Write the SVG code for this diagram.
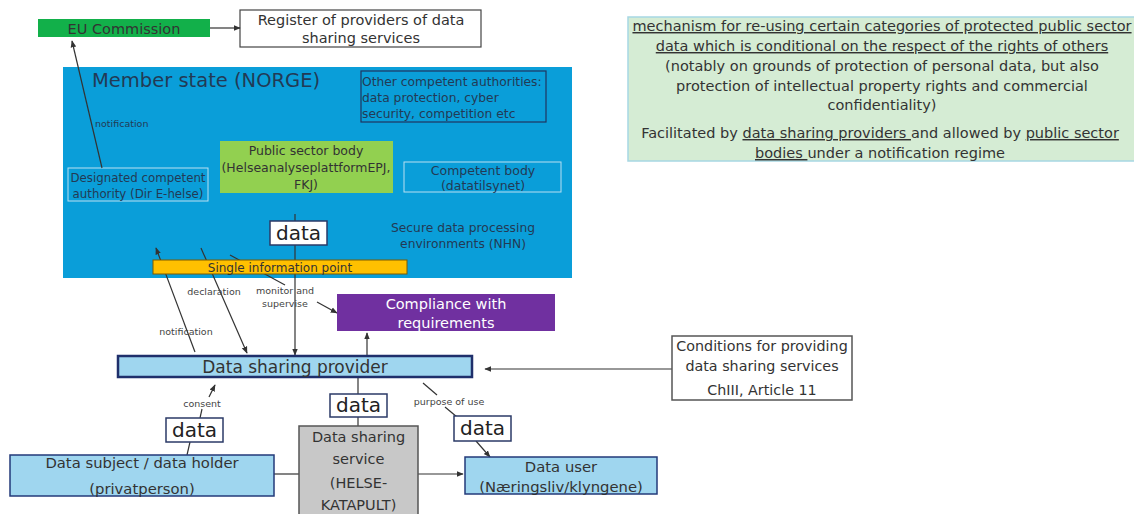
<svg xmlns="http://www.w3.org/2000/svg" width="1134" height="514" viewBox="0 0 1134 514">
<style>
text{font-family:"DejaVu Sans",sans-serif;fill:#333}
.c{text-anchor:middle}
.lbl{font-size:9.5px;fill:#444}
.blue{fill:#223a55}
.ln{stroke:#333;stroke-width:1.2;fill:none}
.data{fill:#fff;stroke:#2b3a67;stroke-width:1.5}
.dt{font-size:20px;fill:#222}
.lb{fill:#9fd6ef;stroke:#233a7a;stroke-width:1.5}
</style>
<defs>
<marker id="ah" viewBox="0 0 10 10" refX="9" refY="5" markerWidth="7" markerHeight="7" orient="auto-start-reverse" markerUnits="userSpaceOnUse">
<path d="M0,1 L10,5 L0,9 z" fill="#333"/>
</marker>
</defs>

<g id="member-state">
<rect x="63" y="67" width="509" height="211" fill="#0a9ed9"/>
<text x="92" y="87" font-size="19.5" class="blue">Member state (NORGE)</text>
</g>

<g id="eu-commission">
<rect x="38" y="19" width="172" height="18" fill="#12b04a"/>
<text x="124" y="34" class="c" font-size="14.5">EU Commission</text>
</g>

<g id="register">
<rect x="240" y="10" width="241" height="37" fill="#fff" stroke="#444" stroke-width="1.2"/>
<text x="361" y="25" class="c" font-size="14.5">Register of providers of data</text>
<text x="361" y="43" class="c" font-size="14.5">sharing services</text>
</g>

<g id="other-authorities">
<rect x="361" y="71" width="185" height="51" fill="none" stroke="#1f3560" stroke-width="1.2"/>
<text x="362" y="86" font-size="12.3" class="blue">Other competent authorities:</text>
<text x="362" y="102" font-size="12.3" class="blue">data protection, cyber</text>
<text x="362" y="118" font-size="12.3" class="blue">security, competition etc</text>
</g>

<g id="designated-authority">
<rect x="68" y="168" width="140" height="33" fill="none" stroke="#b9dff2" stroke-width="1"/>
<text x="138" y="182" class="c blue" font-size="11.8">Designated competent</text>
<text x="138" y="198" class="c blue" font-size="11.8">authority (Dir E-helse)</text>
</g>

<g id="public-sector-body">
<rect x="220" y="141" width="173" height="52" fill="#92d050"/>
<text x="306" y="155" class="c" font-size="12.5">Public sector body</text>
<text x="306" y="172" class="c" font-size="12.5">(HelseanalyseplattformEPJ,</text>
<text x="306" y="189" class="c" font-size="12.5">FKJ)</text>
</g>

<g id="competent-body">
<rect x="404" y="162" width="157" height="30" fill="none" stroke="#b9dff2" stroke-width="1"/>
<text x="483" y="175" class="c blue" font-size="12.5">Competent body</text>
<text x="483" y="190" class="c blue" font-size="12.5">(datatilsynet)</text>
</g>

<g id="secure-env">
<text x="463" y="232" class="c blue" font-size="12.3">Secure data processing</text>
<text x="463" y="248" class="c blue" font-size="12.3">environments (NHN)</text>
</g>

<g id="connectors">
<line class="ln" x1="102" y1="168" x2="72" y2="41" marker-end="url(#ah)"/>
<line class="ln" x1="210" y1="28" x2="240" y2="28" marker-end="url(#ah)"/>
<line class="ln" x1="295" y1="214" x2="295" y2="355" marker-end="url(#ah)"/>
<line class="ln" x1="195" y1="352" x2="156" y2="248" marker-end="url(#ah)"/>
<line class="ln" x1="201" y1="248" x2="247" y2="353" marker-end="url(#ah)"/>
<line class="ln" x1="230" y1="255" x2="285" y2="285"/>
<line class="ln" x1="317" y1="302" x2="337" y2="313" marker-end="url(#ah)"/>
<line class="ln" x1="367" y1="355" x2="367" y2="333" marker-end="url(#ah)"/>
<line class="ln" x1="672" y1="369" x2="485" y2="369" marker-end="url(#ah)"/>
<line class="ln" x1="209" y1="397" x2="215" y2="385" marker-end="url(#ah)"/>
<line class="ln" x1="202" y1="409" x2="200" y2="418"/>
<line class="ln" x1="190" y1="442" x2="187" y2="455"/>
<line class="ln" x1="358" y1="378" x2="358" y2="394"/>
<line class="ln" x1="358" y1="417" x2="358" y2="426"/>
<line class="ln" x1="423" y1="383" x2="437" y2="395"/>
<line class="ln" x1="445" y1="407" x2="457" y2="417"/>
<line class="ln" x1="476" y1="441" x2="490" y2="457" marker-end="url(#ah)"/>
<line class="ln" x1="274" y1="474" x2="299" y2="474"/>
<line class="ln" x1="418" y1="474" x2="463" y2="474" marker-end="url(#ah)"/>
<text x="95" y="127" class="lbl" style="fill:#223a55">notification</text>
<text x="186" y="335" class="c lbl">notification</text>
<text x="214" y="295" class="c lbl">declaration</text>
<text x="285" y="294" class="c lbl">monitor and</text>
<text x="285" y="307" class="c lbl">supervise</text>
<text x="202" y="407" class="c lbl">consent</text>
<text x="449" y="405" class="c lbl">purpose of use</text>
</g>

<g id="data-box-1">
<rect class="data" x="270" y="221" width="57" height="24"/>
<text x="298.5" y="240" class="c dt">data</text>
</g>

<g id="single-info-point">
<rect x="153" y="260" width="254" height="14" fill="#ffc000" stroke="#7a5a00" stroke-width="1"/>
<text x="280" y="271.5" class="c" font-size="12" fill="#222">Single information point</text>
</g>

<g id="compliance">
<rect x="337" y="294" width="218" height="37" fill="#7030a0"/>
<text x="446" y="309" class="c" font-size="14.5" style="fill:#fff">Compliance with</text>
<text x="446" y="328" class="c" font-size="14.5" style="fill:#fff">requirements</text>
</g>

<g id="data-sharing-provider">
<rect x="118" y="356" width="354" height="21" fill="#9fd6ef" stroke="#1f2f6b" stroke-width="2.5"/>
<text x="295" y="373" class="c" font-size="17" fill="#222">Data sharing provider</text>
</g>

<g id="conditions">
<rect x="672" y="336" width="180" height="64" fill="#fff" stroke="#555" stroke-width="1.5"/>
<text x="762" y="351" class="c" font-size="14.3">Conditions for providing</text>
<text x="762" y="371" class="c" font-size="14.3">data sharing services</text>
<text x="762" y="395" class="c" font-size="14.3">ChIII, Article 11</text>
</g>

<g id="data-box-2">
<rect class="data" x="166" y="418" width="57" height="24"/>
<text x="194.5" y="437" class="c dt">data</text>
</g>

<g id="data-box-3">
<rect class="data" x="330" y="394" width="57" height="23"/>
<text x="358.5" y="412" class="c dt">data</text>
</g>

<g id="data-box-4">
<rect class="data" x="454" y="416" width="57" height="25"/>
<text x="482.5" y="435" class="c dt">data</text>
</g>

<g id="data-subject">
<rect class="lb" x="10" y="455" width="264" height="41"/>
<text x="142" y="468" class="c" font-size="14.8">Data subject / data holder</text>
<text x="142" y="494" class="c" font-size="14.8">(privatperson)</text>
</g>

<g id="data-sharing-service">
<rect x="299" y="426" width="119" height="92" fill="#c8c8c8" stroke="#555" stroke-width="1.5"/>
<text x="358.5" y="442" class="c" font-size="14.5">Data sharing</text>
<text x="358.5" y="464" class="c" font-size="14.5">service</text>
<text x="358.5" y="488" class="c" font-size="14.5">(HELSE-</text>
<text x="358.5" y="510" class="c" font-size="14.5">KATAPULT)</text>
</g>

<g id="data-user">
<rect class="lb" x="465" y="457" width="192" height="37"/>
<text x="561" y="472" class="c" font-size="14.8">Data user</text>
<text x="561" y="492" class="c" font-size="14.8">(Næringsliv/klyngene)</text>
</g>

<g id="description">
<rect x="628" y="17" width="512" height="144" fill="#d5ecd4" stroke="#a7d7e3" stroke-width="1.5"/>
<text x="882" y="31" class="c" font-size="14.5" text-decoration="underline">mechanism for re-using certain categories of protected public sector</text>
<text x="882" y="51" class="c" font-size="14.5" text-decoration="underline">data which is conditional on the respect of the rights of others</text>
<text x="882" y="71" class="c" font-size="14.5">(notably on grounds of protection of personal data, but also</text>
<text x="882" y="91" class="c" font-size="14.5">protection of intellectual property rights and commercial</text>
<text x="882" y="110" class="c" font-size="14.5">confidentiality)</text>
<text x="880" y="138" class="c" font-size="14.5">Facilitated by <tspan text-decoration="underline">data sharing providers </tspan>and allowed by <tspan text-decoration="underline">public sector</tspan></text>
<text x="880" y="158" class="c" font-size="14.5"><tspan text-decoration="underline">bodies </tspan>under a notification regime</text>
</g>
</svg>
